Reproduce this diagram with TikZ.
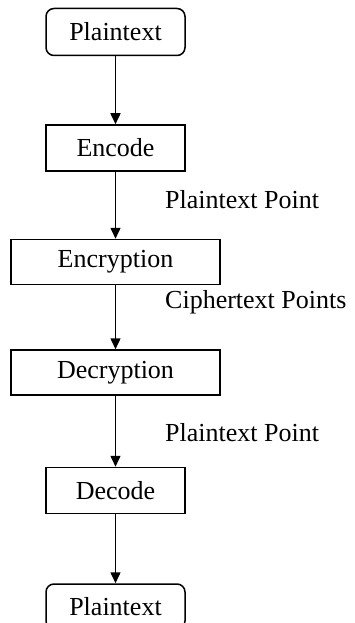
\documentclass[tikz,border=0pt]{standalone}
\usepackage{fontspec}
\setmainfont{Liberation Serif}
\usepackage{tikz}
\usetikzlibrary{arrows.meta,positioning,calc}

\begin{document}
\begin{tikzpicture}[font=\fontsize{26}{31}\selectfont,
  endpt/.style={rounded corners=8pt, draw=black, line width=1.5pt,
             minimum width=139pt, minimum height=47pt, align=center, inner sep=0pt},
  stage/.style={draw=black, line width=1.5pt,
             minimum width=139pt, minimum height=46pt, align=center, inner sep=0pt},
  wide/.style={stage, minimum width=209pt, minimum height=45pt},
  lbl/.style={anchor=west, inner sep=0pt},
  ar/.style={-{Triangle[length=11pt,width=10pt]}, line width=1.5pt}]
\useasboundingbox (0,0) rectangle (355pt,-623pt);
\node[endpt] (ptin) at (115.5pt,-32pt) {Plaintext};
\node[stage, below=68pt of ptin] (encode) {Encode};
\node[wide, below=67pt of encode] (encrypt) {Encryption};
\node[wide, below=64pt of encrypt] (decrypt) {Decryption};
\node[stage, below=71pt of decrypt] (decode) {Decode};
\node[endpt, below=69pt of decode, minimum height=45pt] (ptout) {Plaintext};
\draw[ar] (ptin) -- (encode);
\draw[ar] (encode) -- (encrypt);
\draw[ar] (encrypt) -- (decrypt);
\draw[ar] (decrypt) -- (decode);
\draw[ar] (decode) -- (ptout);
\node[lbl] (pt1) at (165pt,-200pt) {Plaintext Point};
\node[lbl] (ctp) at (165pt,-302pt) {Ciphertext Points};
\node[lbl] (pt2) at (165pt,-433pt) {Plaintext Point};
\end{tikzpicture}
\end{document}
